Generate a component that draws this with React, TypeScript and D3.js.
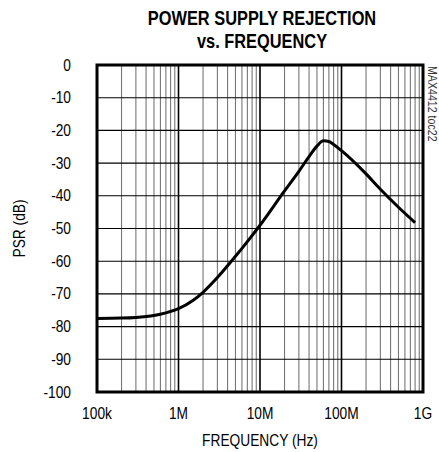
import React, { useEffect, useRef } from 'react';
import * as d3 from 'd3';

// curve: frequency (Hz) and PSR (dB)
const freqs = [1e5, 2e5, 3e5, 5e5, 7e5, 1e6, 1.5e6, 2e6, 3e6, 5e6, 7e6, 1e7, 2e7, 3e7, 4e7, 5e7, 6e7, 7e7, 8e7, 1e8, 2e8, 3e8, 5e8, 8e8];
const psr = [-77.5, -77.4, -77.2, -76.6, -75.8, -74.5, -72, -69.5, -65, -58.5, -54, -49, -38.5, -32.5, -28, -24.8, -23.2, -23.4, -24.3, -26.2, -33.3, -38, -43.5, -48.2];

const yTicks = [0, -10, -20, -30, -40, -50, -60, -70, -80, -90, -100];
const xTicks = [1e5, 1e6, 1e7, 1e8, 1e9];
const xTickLabels = ['100k', '1M', '10M', '100M', '1G'];

const W = 439;
const H = 452;
const margin = { top: 65, right: 16, bottom: 60, left: 97 };
const font = "'Liberation Sans', Arial, sans-serif";

const App = () => {
  const ref = useRef<SVGSVGElement>(null);

  useEffect(() => {
    const svg = d3.select(ref.current);
    svg.selectAll('*').remove();

    const x = d3.scaleLog().domain([1e5, 1e9]).range([margin.left, W - margin.right]);
    const y = d3.scaleLinear().domain([-100, 0]).range([H - margin.bottom, margin.top]);

    // condensed-looking text: squeeze horizontally
    const label = (tx: number, ty: number, txt: string, size: number, anchor: string, sx = 0.86, rot = 0, weight = 'normal') => {
      svg.append('text')
        .attr('transform', `translate(${tx}, ${ty}) rotate(${rot}) scale(${sx}, 1)`)
        .attr('text-anchor', anchor)
        .style('font-family', font).style('font-size', `${size}px`).style('font-weight', weight)
        .text(txt);
    };

    // minor vertical grid
    const minor: number[] = [];
    for (let d = 1e5; d < 1e9; d *= 10) {
      for (let k = 2; k <= 9; k++) minor.push(d * k);
    }
    svg.append('g').selectAll('line').data(minor).enter().append('line')
      .attr('x1', (d) => x(d)).attr('x2', (d) => x(d))
      .attr('y1', y(0)).attr('y2', y(-100))
      .attr('stroke', '#777').attr('stroke-width', 1.1);

    // horizontal grid
    svg.append('g').selectAll('line').data(yTicks).enter().append('line')
      .attr('x1', x(1e5)).attr('x2', x(1e9))
      .attr('y1', (d) => y(d)).attr('y2', (d) => y(d))
      .attr('stroke', '#000').attr('stroke-width', 1.1);

    // decade lines
    svg.append('g').selectAll('line').data(xTicks).enter().append('line')
      .attr('x1', (d) => x(d)).attr('x2', (d) => x(d))
      .attr('y1', y(0)).attr('y2', y(-100))
      .attr('stroke', '#000').attr('stroke-width', 1.6);

    // frame
    svg.append('rect')
      .attr('x', x(1e5)).attr('y', y(0))
      .attr('width', x(1e9) - x(1e5)).attr('height', y(-100) - y(0))
      .attr('fill', 'none').attr('stroke', '#000').attr('stroke-width', 3);

    // curve
    const pts = freqs.map((f, i) => [f, psr[i]] as [number, number]);
    const line = d3.line<[number, number]>()
      .x((d) => x(d[0])).y((d) => y(d[1]))
      .curve(d3.curveMonotoneX);
    svg.append('path').datum(pts)
      .attr('d', line)
      .attr('fill', 'none').attr('stroke', '#000').attr('stroke-width', 3)
      .attr('stroke-linejoin', 'round');

    // y tick labels
    yTicks.forEach((d) => label(71, y(d) + 5.5, String(d), 16, 'end'));

    // x tick labels
    xTicks.forEach((d, i) => label(x(d), 419, xTickLabels[i], 16, 'middle'));

    label(260, 446, 'FREQUENCY (Hz)', 16, 'middle');
    label(25, (y(0) + y(-100)) / 2, 'PSR (dB)', 16, 'middle', 0.86, -90);

    // title
    label(262, 25, 'POWER SUPPLY REJECTION', 21, 'middle', 0.78, 0, 'bold');
    label(262, 48, 'vs. FREQUENCY', 21, 'middle', 0.78, 0, 'bold');

    // side note
    svg.append('text')
      .attr('transform', `translate(428, 66) rotate(90) scale(0.85, 1)`)
      .style('font-family', font).style('font-size', '12.5px')
      .attr('fill', '#333')
      .text('MAX4412 toc22');
  }, []);

  return (
    <svg ref={ref} width={W} height={H} style={{ position: 'absolute', left: 0, top: 0, background: '#fff' }} />
  );
};

export default App;
